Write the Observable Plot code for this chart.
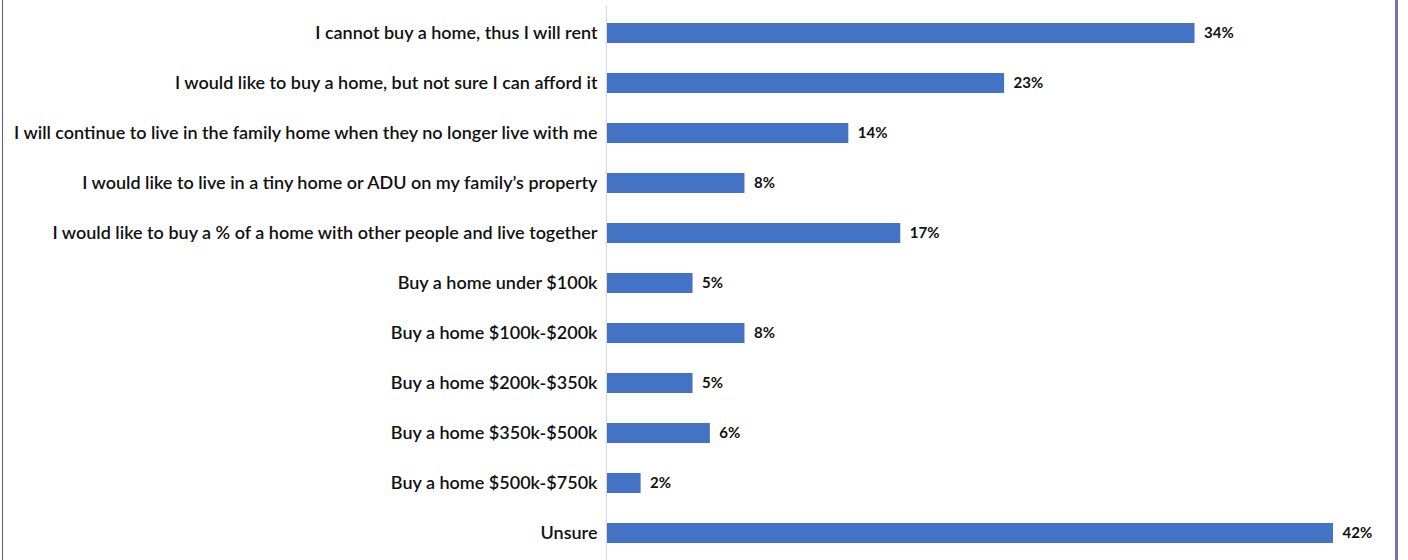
<!DOCTYPE html>
<html>
<head>
<meta charset="utf-8">
<script src="https://cdn.jsdelivr.net/npm/d3@7"></script>
<script src="https://cdn.jsdelivr.net/npm/@observablehq/plot@0.6"></script>
<style>
  html, body { margin: 0; padding: 0; background: #fff; }
  #frame { position: relative; width: 1408px; height: 560px; overflow: hidden; }
  #frame::before { content: ""; position: absolute; left: 2px; top: 0; width: 1px; height: 560px; background: #5a56a8; }
  #frame::after { content: ""; position: absolute; left: 1395px; top: 0; width: 3px; height: 560px; background: #7a70b8; }
  svg text { font-family: Lato, "Open Sans", sans-serif; }
</style>
</head>
<body>
<div id="frame"></div>
<script>
const categories = [
  "I cannot buy a home, thus I will rent",
  "I would like to buy a home, but not sure I can afford it",
  "I will continue to live in the family home when they no longer live with me",
  "I would like to live in a tiny home or ADU on my family’s property",
  "I would like to buy a % of a home with other people and live together",
  "Buy a home under $100k",
  "Buy a home $100k-$200k",
  "Buy a home $200k-$350k",
  "Buy a home $350k-$500k",
  "Buy a home $500k-$750k",
  "Unsure"
];
const values = [34, 23, 14, 8, 17, 5, 8, 5, 6, 2, 42];

const data = categories.map((c, i) => ({category: c, value: values[i]}));

const chart = Plot.plot({
  width: 1408,
  height: 560,
  marginLeft: 606,
  marginRight: 75,
  marginTop: 5,
  marginBottom: 0,
  style: {fontFamily: "Lato, sans-serif", background: "transparent"},
  x: {domain: [0, 42], axis: null},
  y: {domain: categories, paddingInner: 0.6, paddingOuter: 0.3, label: null},
  marks: [
    Plot.barX(data, {x: "value", y: "category", fill: "#4472C4"}),
    Plot.ruleX([0], {stroke: "#d9d9d9", strokeWidth: 1}),
    Plot.axisY({tickSize: 0, tickPadding: 9, label: null, fontSize: 18, fontWeight: 600, fill: "#111", textAnchor: "end"}),
    Plot.text(data, {x: "value", y: "category", text: d => d.value + "%", dx: 9, textAnchor: "start", fontSize: 15, fontWeight: 700, fill: "#111"})
  ]
});
document.getElementById("frame").appendChild(chart);
</script>
</body>
</html>
